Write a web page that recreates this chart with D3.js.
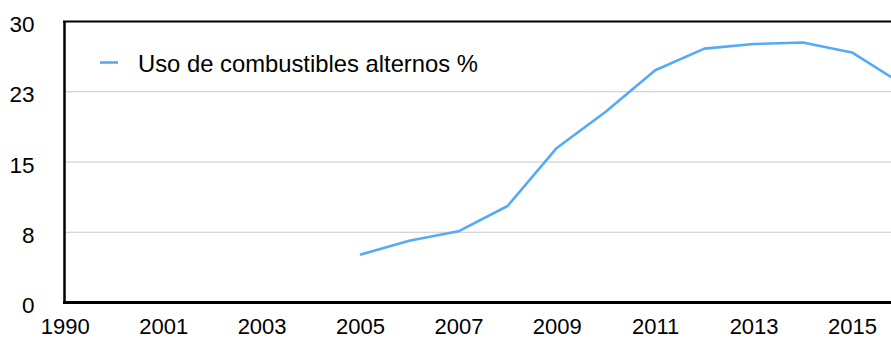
<!DOCTYPE html>
<html><head><meta charset="utf-8">
<script src="https://cdn.jsdelivr.net/npm/d3@7"></script>
<style>body{margin:0;background:#fff;overflow:hidden}svg{display:block}</style>
</head><body><svg id="c" width="891" height="339"></svg>
<script>
const categories = ["1990","2000","2001","2002","2003","2004","2005","2006","2007","2008","2009","2010","2011","2012","2013","2014","2015","2016"];
const values = [null,null,null,null,null,null,5.1,6.6,7.6,10.3,16.5,20.4,24.8,27.1,27.6,27.75,26.7,23.4];
const tickLabels = ["1990","2001","2003","2005","2007","2009","2011","2013","2015"];
const yTicks = [0,7.5,15,22.5,30];
const seriesName = "Uso de combustibles alternos %";

const svg = d3.select("#c");
const font = "Liberation Sans, Arial, Helvetica, sans-serif";
const x = d3.scalePoint().domain(categories).range([64.8, 901.2]);
const y = d3.scaleLinear().domain([0,30]).range([302.5, 21.5]);

// gridlines
svg.append("g").selectAll("line").data(yTicks.slice(1,4)).join("line")
  .attr("x1",64).attr("x2",891).attr("y1",d=>y(d)).attr("y2",d=>y(d))
  .attr("stroke","#c8c8c8").attr("stroke-width",1.2);
// top border
svg.append("line").attr("x1",63).attr("x2",891).attr("y1",y(30)).attr("y2",y(30))
  .attr("stroke","#000").attr("stroke-width",2.2);

// y axis
const ya = d3.axisLeft(y).tickValues(yTicks).tickSize(0).tickPadding(29.5)
  .tickFormat(d=>d3.format(".0f")(Math.round(d)));
const gy = svg.append("g").attr("transform","translate(64,0)").call(ya);
gy.select(".domain").attr("stroke","#000").attr("stroke-width",2.5);
gy.selectAll("text").attr("font-family",font).attr("font-size",22.5).attr("fill","#000")
  .attr("dy","0.45em");

// x axis
const xa = d3.axisBottom(x).tickValues(tickLabels).tickSize(0).tickPadding(16);
const gx = svg.append("g").attr("transform",`translate(0,${y(0)})`).call(xa);
gx.select(".domain").attr("stroke","#000").attr("stroke-width",2.8).attr("d","M63,0H891");
gx.selectAll("text").attr("font-family",font).attr("font-size",22).attr("fill","#000");

// line
const line = d3.line().defined(d=>d.v!=null).x(d=>x(d.c)).y(d=>y(d.v));
svg.append("path").datum(categories.map((c,i)=>({c,v:values[i]})))
  .attr("d",line).attr("fill","none").attr("stroke","#55aaf7").attr("stroke-width",2.6)
  .attr("stroke-linejoin","round");

// legend
svg.append("line").attr("x1",100).attr("x2",118).attr("y1",62.5).attr("y2",62.5)
  .attr("stroke","#55aaf7").attr("stroke-width",2.6);
svg.append("text").attr("x",138).attr("y",71.5).attr("font-family",font).attr("font-size",23.8)
  .attr("fill","#000").text(seriesName);
</script></body></html>
